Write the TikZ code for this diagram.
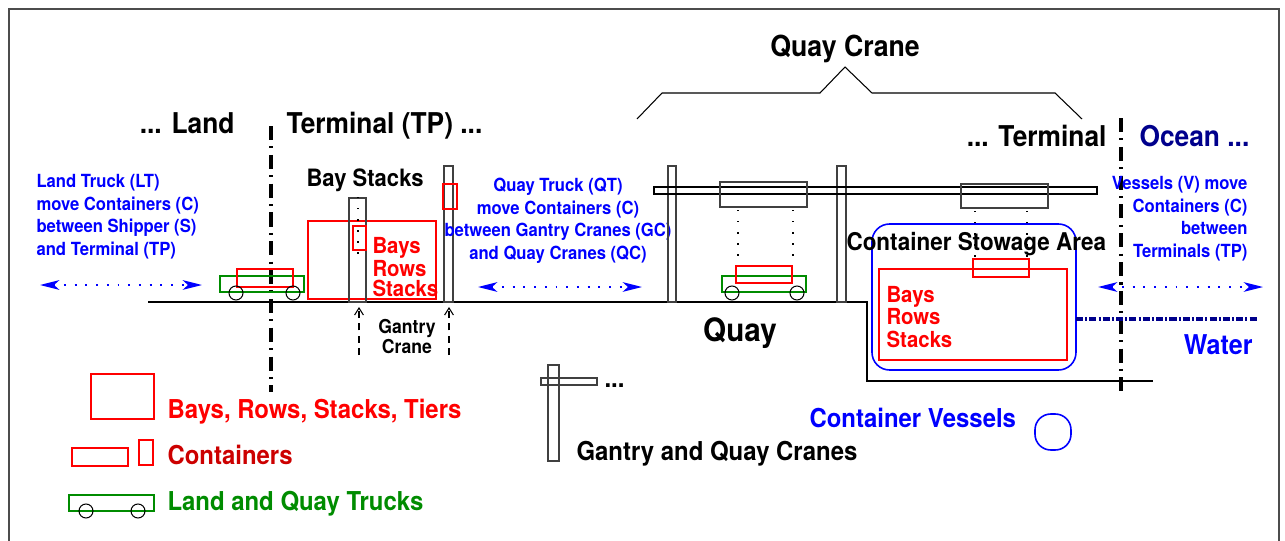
\documentclass[tikz,border=0pt]{standalone}
\usepackage{fontspec}
\setmainfont{TeX Gyre Heros}[FakeStretch=0.92]
\usetikzlibrary{arrows.meta}
\definecolor{navy}{rgb}{0,0,0.55}
\definecolor{truckgreen}{rgb}{0,0.55,0}
\definecolor{darkred}{rgb}{0.8,0,0}

\tikzset{
  lbl/.style={inner sep=0pt, font=\bfseries},
  info/.style={lbl, blue, font=\bfseries\fontsize{10.3}{12.8}\selectfont},
  head/.style={lbl, font=\bfseries\fontsize{16.3}{18}\selectfont},
  legend/.style={lbl, font=\bfseries\fontsize{14.8}{17}\selectfont},
  box/.style={red, line width=0.7pt},
  truck/.style={truckgreen, line width=0.8pt},
  post/.style={black!75, line width=0.6pt},
  hoist/.style={line width=0.9pt, dash pattern=on 0.8pt off 5.5pt},
  border/.style={line width=2pt, dash pattern=on 8pt off 3.6pt on 1.2pt off 3.6pt},
  move/.style={blue, line width=1pt, dash pattern=on 1.1pt off 5pt,
    {Stealth[length=11pt,width=5.5pt,inset=3pt]}-{Stealth[length=11pt,width=5.5pt,inset=3pt]}},
  lift/.style={line width=0.6pt, dash pattern=on 4pt off 3pt, -{Straight Barb[length=4pt,width=5pt]}}
}

\begin{document}
\begin{tikzpicture}[x=0.02cm, y=-0.02cm, line width=0.6pt]
\useasboundingbox (0,0) rectangle (1285,541);
%frame
\draw[black!70] (9,541) -- (9,9) -- (1279,9) -- (1279,541);

%ground and quay wall
\draw (148,302) -- (867,302) -- (867,381) -- (1153,381);
%land / terminal / ocean borders
\draw[border] (271,126) -- (271,392);
\draw[border] (1121,118) -- (1121,395);

%headings
\node[head, anchor=base east] (land) at (235,133) {... Land};
\node[head, anchor=base west] (term) at (286,133) {Terminal (TP) ...};
\node[head, anchor=base east] (term2) at (1107,146) {... Terminal};
\node[head, anchor=base west, navy] (ocean) at (1139,146) {Ocean ...};
\node[lbl, anchor=base, font=\bfseries\fontsize{16.5}{18}\selectfont] (qc) at (845,56) {Quay Crane};
\node[lbl, anchor=base, font=\bfseries\fontsize{18.3}{20}\selectfont] (quay) at (740,341) {Quay};

%Land side (base = last line)
\node[info, anchor=base west, align=left] (lt) at (36,255)
  {Land Truck (LT)\\move Containers (C)\\between Shipper (S)\\and Terminal (TP)};
\coordinate (lt1) at (40,285);
\coordinate (lt2) at (202,285);
\draw[move] (lt1) -- (lt2);
\draw[truck] (220,276) rectangle (304,292);
\draw[box] (237,269) rectangle (293,287);
\draw (236,293) circle[radius=7];
\draw (293,293) circle[radius=7];

%Bay stacks and gantry cranes
\node[lbl, anchor=base west, font=\bfseries\fontsize{13.6}{15}\selectfont] (bs) at (306,186) {Bay Stacks};
\draw[box] (308,221) rectangle (436,299);
\draw[post] (349,198) rectangle (366,302);
\draw[hoist] (358,197) -- (358,263);
\draw[box] (353,226) rectangle (366,250);
\draw[post] (444,166) rectangle (453,302);
\draw[box] (443,184) rectangle (457,209);
\node[lbl, red, anchor=base west, align=left, font=\bfseries\fontsize{12.6}{11.3}\selectfont] (brs1) at (372,296)
  {Bays\\Rows\\Stacks};
\coordinate (g1a) at (359,355);
\coordinate (g1b) at (359,307);
\coordinate (g2a) at (449,355);
\coordinate (g2b) at (449,307);
\draw[lift] (g1a) -- (g1b);
\draw[lift] (g2a) -- (g2b);
\node[lbl, anchor=base, align=center, font=\bfseries\fontsize{10.9}{11.3}\selectfont] (gc) at (407,353)
  {Gantry\\Crane};

%Quay trucks
\node[info, anchor=base, align=center] (qt) at (558,259)
  {Quay Truck (QT)\\move Containers (C)\\between Gantry Cranes (GC)\\and Quay Cranes (QC)};
\coordinate (qt1) at (478,287);
\coordinate (qt2) at (642,287);
\draw[move] (qt1) -- (qt2);

%Quay crane
\draw (637,119) -- (662,93) -- (820,93) -- (845,67) -- (872,93) -- (1055,93) -- (1082,119);
\draw[post] (668,166) rectangle (676,302);
\draw[post] (837,166) rectangle (846,302);
\draw (654,187) rectangle (1097,194);
\draw[post] (720,182) rectangle (807,207);
\draw[post] (961,184) rectangle (1048,208);
\draw[hoist] (738,210) -- (738,258);
\draw[hoist] (793,210) -- (793,258);
\draw[hoist] (975,211) -- (975,257);
\draw[hoist] (1027,211) -- (1027,257);
\draw[truck] (722,276) rectangle (806,292);
\draw[box] (736,266) rectangle (792,283);
\draw (732,293) circle[radius=7];
\draw (797,293) circle[radius=7];

%Stowage area on the vessel
\draw[blue, line width=0.9pt, rounded corners=10pt] (872,224) rectangle (1076,370);
\draw[box] (879,269) rectangle (1067,360);
\draw[box] (973,259) rectangle (1029,277);
\node[lbl, anchor=base west, font=\bfseries\fontsize{13.9}{15}\selectfont] (csa) at (846,250) {Container Stowage Area};
\node[lbl, red, anchor=base west, align=left, font=\bfseries\fontsize{12.6}{12.8}\selectfont] (brs2) at (886,347)
  {Bays\\Rows\\Stacks};

%Ocean side
\node[info, anchor=base east, align=right] (vs) at (1248,257)
  {Vessels (V) move\\Containers (C)\\between\hspace*{0.1cm}\\Terminals (TP)};
\coordinate (vs1) at (1098,287);
\coordinate (vs2) at (1263,287);
\draw[move] (vs1) -- (vs2);
\draw[navy, line width=2pt, dash pattern=on 4pt off 1.2pt on 1.2pt off 1.2pt] (1076,319) -- (1257,319);
\node[lbl, blue, anchor=base east, font=\bfseries\fontsize{15.5}{17}\selectfont] (water) at (1253,354) {Water};

%legend
\draw[box] (91,374) rectangle (154,419);
\node[legend, red, anchor=base west] (l1) at (167,418) {Bays, Rows, Stacks, Tiers};
\draw[box] (72,448) rectangle (128,466);
\draw[box] (139,440) rectangle (153,465);
\node[legend, darkred, anchor=base west] (l2) at (167,464) {Containers};
\draw[truck] (69,495) rectangle (154,511);
\draw (86,511) circle[radius=7];
\draw (138,511) circle[radius=7];
\node[legend, truckgreen, anchor=base west] (l3) at (167,510) {Land and Quay Trucks};
\draw[post] (548,365) rectangle (559,461);
\draw[post] (541,378) rectangle (597,385);
\node[legend, anchor=base west] (dots) at (604,387) {...};
\node[legend, anchor=base west] (l4) at (576,460) {Gantry and Quay Cranes};
\node[legend, blue, anchor=base west] (l5) at (809,427) {Container Vessels};
\draw[blue, line width=0.9pt, rounded corners=9pt] (1035,414) rectangle (1071,450);
\end{tikzpicture}
\end{document}
